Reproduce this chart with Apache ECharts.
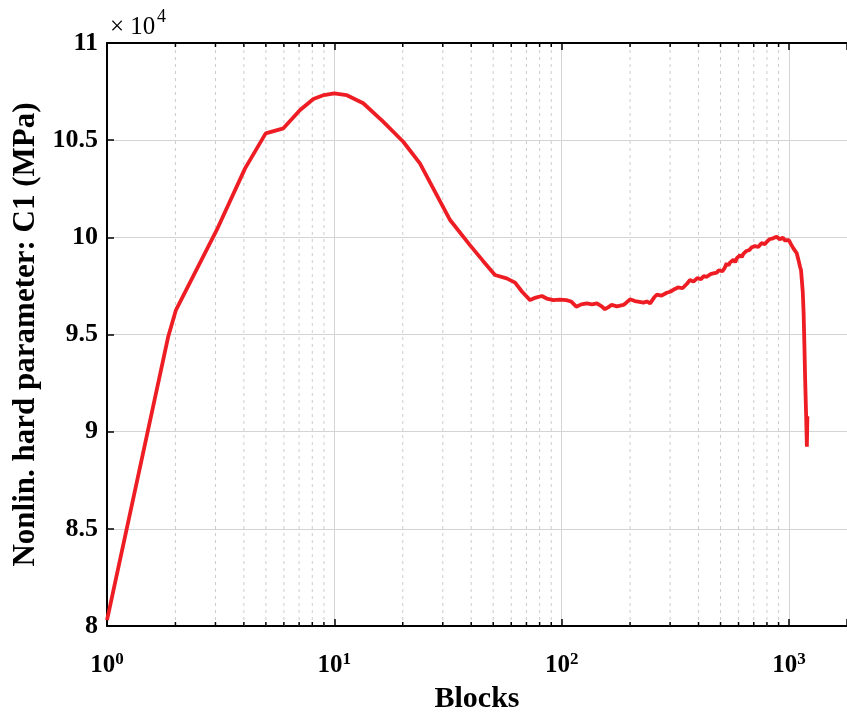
<!DOCTYPE html>
<html><head><meta charset="utf-8">
<script src="https://cdn.jsdelivr.net/npm/echarts@6/dist/echarts.min.js"></script>
<style>html,body{margin:0;padding:0;background:#fff}#c{width:847px;height:715px}</style>
</head><body><div id="c"></div>
<script>
// Blocks (x, log scale)
const blocks = [1, 1.86, 2.01, 3.04, 4.05, 4.99, 5.97, 7.07, 8.09, 9, 10, 11.3, 13.4, 16.4, 20.1, 23.8, 29.2, 32.3, 39.5, 45, 50.9, 57.3, 62.4, 67, 72.6, 77, 81.8, 86, 91.9, 98,
  105, 110, 116, 122, 129, 136, 143, 150, 155, 160, 166, 175, 187, 193, 200, 210, 220, 229, 237, 245, 255, 262, 275, 290, 300, 310, 325, 340, 355, 367, 380, 395, 410, 422, 435, 445, 455, 464, 481,
  490, 500, 510, 520, 532, 542, 550, 560, 570, 580, 590, 600, 610, 620, 630, 640, 650, 660, 670, 684, 697, 708, 720, 732, 745, 757, 770, 784, 798, 810, 820, 835, 850, 866, 883, 896, 910, 925, 940, 958, 977, 1000, 1020, 1046, 1065, 1082, 1100, 1118, 1130, 1150, 1160, 1170, 1178, 1190, 1199, 1205];
// Nonlin. hard parameter C1, in units of 10^4 MPa
const c1 = [8.03, 9.49, 9.626, 10.038, 10.355, 10.535, 10.561, 10.655, 10.712, 10.732, 10.741, 10.732, 10.69, 10.595, 10.492, 10.381, 10.185, 10.089, 9.96, 9.88, 9.806, 9.789, 9.767, 9.72, 9.677, 9.69, 9.698, 9.685, 9.677, 9.68,
  9.677, 9.67, 9.643, 9.655, 9.66, 9.655, 9.66, 9.645, 9.63, 9.64, 9.652, 9.645, 9.652, 9.665, 9.681, 9.672, 9.668, 9.664, 9.67, 9.66, 9.69, 9.705, 9.70, 9.715, 9.72, 9.73, 9.742, 9.738, 9.76, 9.78, 9.772, 9.79, 9.785, 9.80, 9.797, 9.805, 9.812, 9.808, 9.818,
  9.83, 9.835, 9.826, 9.84, 9.866, 9.855, 9.87, 9.878, 9.885, 9.872, 9.893, 9.90, 9.909, 9.898, 9.915, 9.925, 9.93, 9.92, 9.935, 9.948, 9.943, 9.955, 9.962, 9.95, 9.958, 9.97, 9.975, 9.965, 9.977, 9.985, 9.99, 9.982, 9.995, 9.99, 10.003, 9.995, 9.99, 10.0, 9.998, 9.985, 9.977, 9.985, 9.965, 9.943, 9.935, 9.918, 9.885, 9.85, 9.83, 9.72, 9.61, 9.43, 9.27, 9.08, 8.922, 9.08];
// minor log grid positions
const minorTicks = [2,3,4,5,6,7,8,9,20,30,40,50,60,70,80,90,200,300,400,500,600,700,800,900];
const yMin = 8, yMax = 11, yStep = 0.5;
const xMin = 1, xMax = 1800;

const FONT = 'Liberation Serif';
const chart = echarts.init(document.getElementById('c'), null, {renderer: 'canvas'});
const supRich = {
  b: {fontFamily: FONT, fontWeight: 'bold', fontSize: 25, color: '#000', lineHeight: 30, verticalAlign: 'middle'},
  s: {fontFamily: FONT, fontWeight: 'bold', fontSize: 17, color: '#000', lineHeight: 17, verticalAlign: 'top'}
};
function decadeLabel(v) {
  const e = Math.log10(v);
  if (Math.abs(e - Math.round(e)) > 1e-6) return '';
  return '{b|10}{s|' + Math.round(e) + '}';
}
const option = {
  animation: false,
  backgroundColor: '#fff',
  graphic: [
    {type: 'text', left: 110, top: 15, style: {text: '× 10', fontSize: 25, fontFamily: FONT, fill: '#000'}},
    {type: 'text', left: 157, top: 8, style: {text: '4', fontSize: 18, fontFamily: FONT, fill: '#000'}}
  ],
  grid: {left: 107, top: 43, right: 0, bottom: 89, containLabel: false, outerBoundsMode: 'none'},
  xAxis: [{
    type: 'log', logBase: 10, min: xMin, max: xMax, position: 'bottom',
    name: 'Blocks', nameLocation: 'middle', nameGap: 58,
    nameTextStyle: {fontFamily: FONT, fontWeight: 'bold', fontSize: 30, color: '#000'},
    axisLine: {show: true, onZero: false, lineStyle: {color: '#000', width: 2}},
    axisTick: {show: true, inside: true, length: 7, lineStyle: {color: '#000', width: 1.5}},
    axisLabel: {margin: 25, formatter: decadeLabel, rich: supRich},
    splitLine: {show: true, lineStyle: {color: '#d4d4d4', width: 1}},
    minorTick: {show: false}, minorSplitLine: {show: false}
  }, {
    type: 'log', logBase: 10, min: xMin, max: xMax, position: 'top',
    axisLine: {show: true, onZero: false, lineStyle: {color: '#000', width: 2}},
    axisTick: {show: true, inside: true, length: 7, lineStyle: {color: '#000', width: 1.5}},
    axisLabel: {show: false},
    splitLine: {show: false}
  }],
  yAxis: {
    type: 'value', min: yMin, max: yMax, interval: yStep,
    name: 'Nonlin. hard parameter: C1 (MPa)', nameLocation: 'middle', nameGap: 64,
    nameTextStyle: {fontFamily: FONT, fontWeight: 'bold', fontSize: 31, color: '#000'},
    axisLine: {show: true, onZero: false, lineStyle: {color: '#000', width: 2}},
    axisTick: {show: true, inside: true, length: 7, lineStyle: {color: '#000', width: 1.5}},
    axisLabel: {margin: 9, fontFamily: FONT, fontWeight: 'bold', fontSize: 26, color: '#000',
      formatter: v => String(Math.round(v * 10) / 10)},
    splitLine: {show: true, lineStyle: {color: '#d4d4d4', width: 1}}
  },
  series: [{
    type: 'custom', xAxisIndex: 0, yAxisIndex: 0, silent: true, z: 1,
    data: minorTicks.map(v => [v, yMin]),
    renderItem: function (params, api) {
      const x = api.coord([api.value(0), yMin])[0];
      const cs = params.coordSys;
      const top = cs.y, bot = cs.y + cs.height;
      return {type: 'group', children: [
        {type: 'line', shape: {x1: x, y1: top, x2: x, y2: bot}, style: {stroke: '#cccccc', lineWidth: 1, lineDash: [3, 4]}},
        {type: 'line', shape: {x1: x, y1: bot, x2: x, y2: bot - 4}, style: {stroke: '#000', lineWidth: 1.5}},
        {type: 'line', shape: {x1: x, y1: top, x2: x, y2: top + 4}, style: {stroke: '#000', lineWidth: 1.5}}
      ]};
    }
  }, {
    type: 'line', xAxisIndex: 0, yAxisIndex: 0, z: 3,
    data: blocks.map((b, i) => [b, c1[i]]),
    showSymbol: false, symbol: 'none', smooth: false,
    lineStyle: {color: '#ee1d24', width: 3.8},
    clip: true
  }]
};
chart.setOption(option);
</script>
</body></html>
